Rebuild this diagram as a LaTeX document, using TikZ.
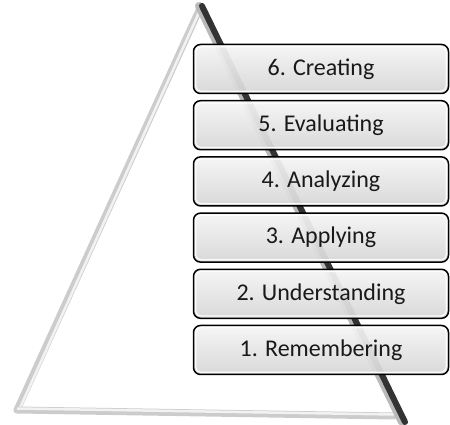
\documentclass[tikz,border=0pt]{standalone}
\usepackage{fontspec}
\setmainfont{Carlito}

\tikzset{
  levelbox/.style={draw=black, line width=1.5pt, rounded corners=7pt,
    minimum width=255pt, minimum height=49pt,
    top color=gray!8, bottom color=gray!32, fill opacity=0.94, text opacity=1,
    text=black!90, font=\fontsize{24}{28}\selectfont},
  glint/.style={white, line width=1.2pt, rounded corners=5pt, opacity=0.9},
  lightedge/.style={gray!40, line width=7pt, line cap=round},
  darkedge/.style={black!80, line width=6pt, line cap=round},
}

\begin{document}
\begin{tikzpicture}[x=1pt,y=1pt]
	\useasboundingbox (0,0) rectangle (450,425);
	% triangle corners
	\coordinate (apex) at (201,419);
	\coordinate (left) at (17,15);
	\coordinate (bot) at (394,9);
	\coordinate (right) at (404,3);
	% light left side and base
	\draw[lightedge] (left) -- (apex);
	\draw[gray!10, line width=2.5pt] ([xshift=2pt]left) -- ([xshift=1pt]apex);
	\draw[lightedge] (left) -- (bot);
	\draw[gray!10, line width=2.5pt] ([yshift=1.5pt]left) -- ([yshift=1.5pt]bot);
	% dark right side
	\draw[gray!55, line width=8pt, line cap=round] ([xshift=-2pt]apex) -- ([xshift=-2pt]right);
	\draw[darkedge] ([xshift=1pt]apex) -- ([xshift=1pt]right);
	% the six levels
	\foreach \i/\txt in {1/Remembering, 2/Understanding, 3/Applying,
	                     4/Analyzing, 5/Evaluating, 6/Creating}{
		\node[levelbox] (b\i) at (321, {75+56.2*(\i-1)}) {\i. \txt};
		\draw[glint] ([shift={(3pt,-3pt)}]b\i.north west) rectangle ([shift={(-3pt,3pt)}]b\i.south east);
	}
\end{tikzpicture}
\end{document}
